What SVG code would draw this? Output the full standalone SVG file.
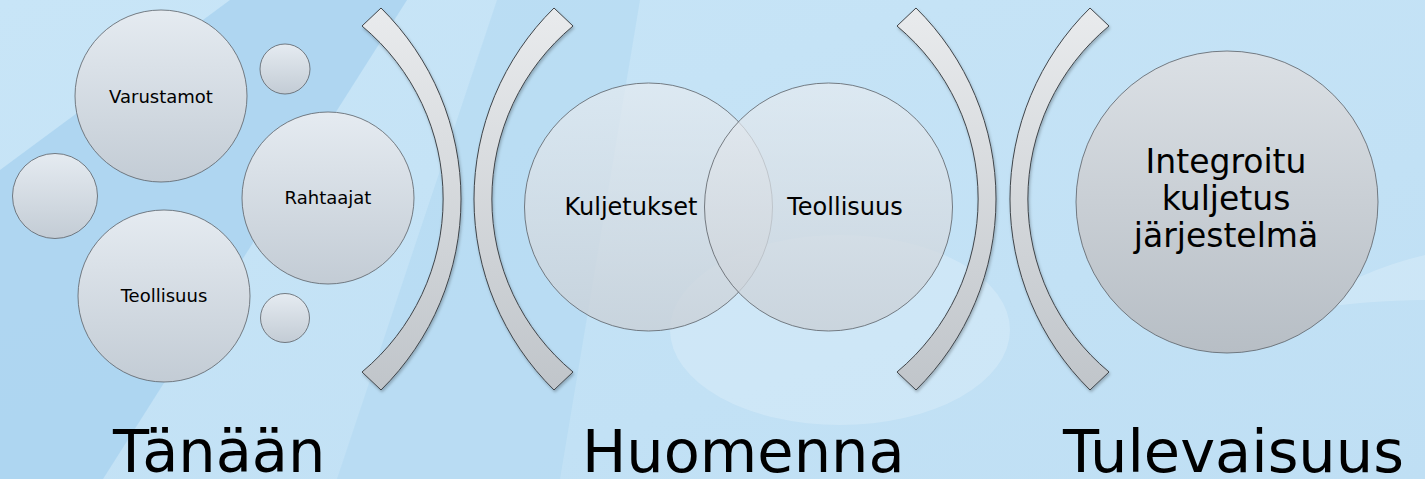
<svg xmlns="http://www.w3.org/2000/svg" width="1425" height="479" viewBox="0 0 1425 479">
  <defs>
    <linearGradient id="bg" x1="0" y1="0" x2="1" y2="1">
      <stop offset="0" stop-color="#c8e5f7"/>
      <stop offset="1" stop-color="#bfdff4"/>
    </linearGradient>
    <linearGradient id="circ" x1="0" y1="0" x2="0" y2="1">
      <stop offset="0" stop-color="#e5ebf1"/>
      <stop offset="1" stop-color="#c3ccd5"/>
    </linearGradient>
    <linearGradient id="venn" x1="0" y1="0" x2="0" y2="1">
      <stop offset="0" stop-color="#e6ebf0" stop-opacity="0.7"/>
      <stop offset="1" stop-color="#c9d0d7" stop-opacity="0.8"/>
    </linearGradient>
    <linearGradient id="big" x1="0" y1="0" x2="0" y2="1">
      <stop offset="0" stop-color="#dbe0e5"/>
      <stop offset="1" stop-color="#b7bec5"/>
    </linearGradient>
    <linearGradient id="brk" x1="0" y1="0" x2="0" y2="1">
      <stop offset="0" stop-color="#e9ebed"/>
      <stop offset="1" stop-color="#c0c5ca"/>
    </linearGradient>
    <filter id="sh" x="-10%" y="-10%" width="120%" height="120%">
      <feDropShadow dx="1" dy="2" stdDeviation="1.5" flood-color="#000" flood-opacity="0.25"/>
    </filter>
  </defs>
  <style>
    .c { fill: url(#circ); stroke: #5a5f66; stroke-width: 0.8; }
    .v { fill: url(#venn); stroke: #5a5f66; stroke-width: 0.8; }
    .b { fill: url(#brk); stroke: #3f4449; stroke-width: 1; filter: url(#sh); }
    text { font-family: "DejaVu Sans", Verdana, sans-serif; fill: #000; text-anchor: middle; }
    .s { font-size: 18px; }
    .m { font-size: 24px; }
    .l { font-size: 33px; }
    .h { font-size: 59px; text-anchor: start; }
  </style>

  <!-- background -->
  <rect width="1425" height="479" fill="url(#bg)"/>
  <polygon points="0,170 230,0 407,0 103,479 0,479" fill="#aad4f0" opacity="0.85"/>
  <polygon points="337,479 497,0 640,0 560,479" fill="#b2d9f2" opacity="0.6"/>
  <ellipse cx="840" cy="330" rx="170" ry="95" fill="#ffffff" opacity="0.2"/>
  <path d="M1300,310 Q1360,270 1425,255 L1425,300 Q1370,300 1300,310 Z" fill="#ffffff" opacity="0.2"/>

  <!-- today group -->
  <g id="node-varustamot">
    <circle class="c" cx="161" cy="96" r="86"/>
    <text class="s" x="161" y="103">Varustamot</text>
  </g>
  <g id="node-small-top">
    <circle class="c" cx="285" cy="69" r="25"/>
  </g>
  <g id="node-small-left">
    <circle class="c" cx="55" cy="196" r="42.5"/>
  </g>
  <g id="node-rahtaajat">
    <circle class="c" cx="328" cy="198" r="86"/>
    <text class="s" x="328" y="204">Rahtaajat</text>
  </g>
  <g id="node-teollisuus-1">
    <circle class="c" cx="164" cy="296" r="86"/>
    <text class="s" x="164" y="302">Teollisuus</text>
  </g>
  <g id="node-small-bottom">
    <circle class="c" cx="285" cy="318" r="24.5"/>
  </g>

  <!-- separators -->
  <g id="connectors">
    <path class="b" d="M381,8 A268,268 0 0 1 381,390 L362,372 A225,225 0 0 0 362,26 Z"/>
    <path class="b" d="M554,8 A268,268 0 0 0 554,390 L573,372 A225,225 0 0 1 573,26 Z"/>
    <path class="b" d="M916,8 A268,268 0 0 1 916,390 L897,372 A225,225 0 0 0 897,26 Z"/>
    <path class="b" d="M1090,8 A268,268 0 0 0 1090,390 L1109,372 A225,225 0 0 1 1109,26 Z"/>
  </g>

  <!-- tomorrow group -->
  <g id="node-kuljetukset">
    <circle class="v" cx="648.5" cy="207" r="124"/>
  </g>
  <g id="node-teollisuus-2">
    <circle class="v" cx="828.5" cy="207" r="124"/>
  </g>
  <g id="labels-venn">
    <text class="m" x="631" y="215">Kuljetukset</text>
    <text class="m" x="845" y="215">Teollisuus</text>
  </g>

  <!-- future -->
  <g id="node-integroitu">
    <circle cx="1227" cy="202" r="151" fill="url(#big)" stroke="#5a5f66" stroke-width="0.8"/>
    <text class="l" x="1226" y="173">Integroitu</text>
    <text class="l" x="1226" y="210">kuljetus</text>
    <text class="l" x="1226" y="247">järjestelmä</text>
  </g>

  <!-- stage labels -->
  <g id="stage-labels">
    <text class="h" x="113" y="472">Tänään</text>
    <text class="h" x="582" y="472">Huomenna</text>
    <text class="h" x="1063" y="472">Tulevaisuus</text>
  </g>
</svg>
